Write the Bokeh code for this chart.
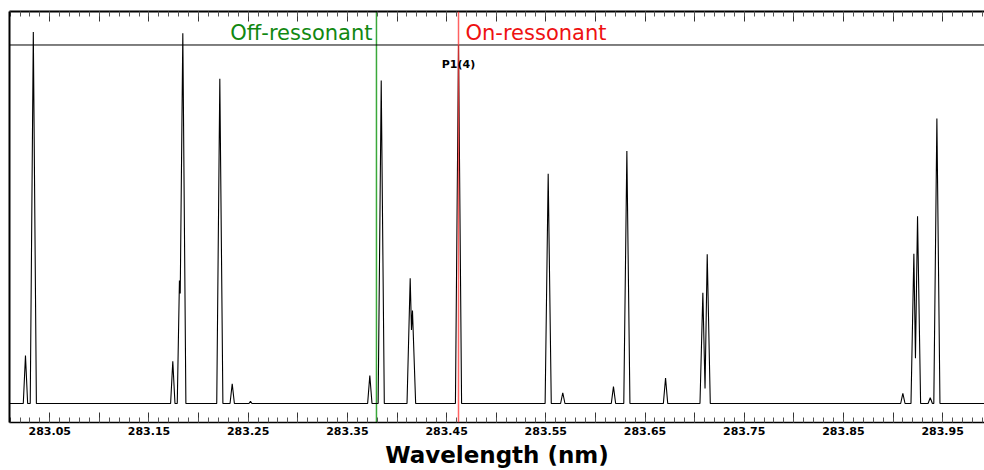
from bokeh.plotting import figure
from bokeh.models import (Range1d, LinearAxis, FixedTicker, CustomJSTickFormatter,
                          CustomLabelingPolicy, Span, Label, ColumnDataSource)
from bokeh.embed import file_html
from bokeh.resources import INLINE

# Spectrum points (wavelength in nm, normalised intensity)
wavelength = [
    283.0000,
    283.0233, 283.0255, 283.0277,
    283.0303, 283.0334, 283.0365,
    283.1718, 283.1740, 283.1762,
    283.1785, 283.1807, 283.1815, 283.1841, 283.1872,
    283.2183, 283.2214, 283.2245,
    283.2317, 283.2339, 283.2361,
    283.2508, 283.2523, 283.2538,
    283.3704, 283.3726, 283.3748,
    283.3810, 283.3841, 283.3872,
    283.4101, 283.4133, 283.4146, 283.4156, 283.4188,
    283.4589, 283.4620, 283.4651,
    283.5493, 283.5524, 283.5555,
    283.5649, 283.5671, 283.5693,
    283.6160, 283.6182, 283.6204,
    283.6286, 283.6317, 283.6348,
    283.6685, 283.6707, 283.6729,
    283.7054, 283.7083, 283.7105, 283.7127, 283.7158,
    283.9077, 283.9099, 283.9121,
    283.9181, 283.9210, 283.9226, 283.9247, 283.9278,
    283.9353, 283.9375, 283.9397,
    283.9411, 283.9442, 283.9473,
    284.0000,
]
intensity = [
    0.0,
    0.0, 0.134, 0.0,
    0.0, 1.036, 0.0,
    0.0, 0.118, 0.0,
    0.0, 0.343, 0.307, 1.033, 0.0,
    0.0, 0.906, 0.0,
    0.0, 0.055, 0.0,
    0.0, 0.006, 0.0,
    0.0, 0.078, 0.0,
    0.0, 0.901, 0.0,
    0.0, 0.349, 0.205, 0.259, 0.0,
    0.0, 1.000, 0.0,
    0.0, 0.641, 0.0,
    0.0, 0.030, 0.0,
    0.0, 0.047, 0.0,
    0.0, 0.704, 0.0,
    0.0, 0.071, 0.0,
    0.0, 0.309, 0.042, 0.416, 0.0,
    0.0, 0.028, 0.0,
    0.0, 0.418, 0.126, 0.522, 0.0,
    0.0, 0.016, 0.0,
    0.0, 0.795, 0.0,
    0.0,
]

off_resonant_wl = 283.3793
on_resonant_wl = 283.4620
reference_level = 1.0
region_label_y = 1.0335
peak_label = "P1(4)"
peak_label_wl = 283.4620
peak_label_y = 0.9456

major_ticks = [round(283.05 + 0.05 * i, 2) for i in range(19)]
minor_ticks = [round(283.0 + 0.01 * i, 2) for i in range(101)]

p = figure(width=984, height=470, output_backend="svg", toolbar_location=None,
           x_range=Range1d(283.0094, 283.9922), y_range=Range1d(-0.053, 1.0934),
           min_border_left=9, min_border_right=0, min_border_top=11, min_border_bottom=48,
           x_axis_location=None, y_axis_location="left")
p.outline_line_color = None
p.xgrid.visible = False
p.ygrid.visible = False
p.background_fill_color = "white"
p.border_fill_color = "white"

# left axis: line only
p.yaxis.ticker = FixedTicker(ticks=[], minor_ticks=[])
p.yaxis.major_tick_line_color = None
p.yaxis.minor_tick_line_color = None
p.yaxis.major_label_standoff = 0
p.yaxis.major_tick_out = 0
p.yaxis.major_tick_in = 0
p.yaxis.minor_tick_out = 0
p.yaxis.axis_line_width = 2
p.yaxis.axis_line_color = "black"

fmt = CustomJSTickFormatter(code="return tick.toFixed(2);")
every_other = CustomLabelingPolicy(code="""
try {
  const n = indices.size;
  for (let i = 0; i < n; i++) { if (i % 2 == 1) indices.unset(i); }
} catch (e) {}
return indices;
""")
no_labels = CustomLabelingPolicy(code="""
try {
  const n = indices.size;
  for (let i = 0; i < n; i++) { indices.unset(i); }
} catch (e) {}
return indices;
""")

xb = LinearAxis(ticker=FixedTicker(ticks=major_ticks, minor_ticks=minor_ticks),
                formatter=fmt, major_label_policy=every_other,
                major_tick_in=10, major_tick_out=0, minor_tick_in=5, minor_tick_out=0,
                major_tick_line_color="#333333", minor_tick_line_color="#555555",
                axis_line_color="black", axis_line_width=1.5,
                major_label_text_font="DejaVu Sans", major_label_text_font_style="bold",
                major_label_text_font_size="11px", major_label_text_color="black",
                major_label_standoff=4,
                axis_label="Wavelength (nm)", axis_label_text_font="DejaVu Sans",
                axis_label_text_font_style="bold", axis_label_text_font_size="23px",
                axis_label_text_color="black", axis_label_standoff=4)
p.add_layout(xb, "below")

xt = LinearAxis(ticker=FixedTicker(ticks=major_ticks, minor_ticks=minor_ticks),
                formatter=fmt, major_label_policy=no_labels,
                major_tick_in=10, major_tick_out=0, minor_tick_in=5, minor_tick_out=0,
                major_tick_line_color="#333333", minor_tick_line_color="#555555",
                axis_line_color="black", axis_line_width=2,
                major_label_text_font_size="11px", major_label_standoff=0)
p.add_layout(xt, "above")

p.add_layout(Span(location=reference_level, dimension="width", line_color="black", line_width=1))
p.add_layout(Span(location=off_resonant_wl, dimension="height", line_color="#3aa83a",
                  line_width=1.5, level="underlay"))

src = ColumnDataSource(dict(x=wavelength, y=intensity))
p.line("x", "y", source=src, line_color="black", line_width=1.1)

p.add_layout(Span(location=on_resonant_wl, dimension="height", line_color="#ff3b3b",
                  line_alpha=0.8, line_width=1.5))

p.add_layout(Label(x=off_resonant_wl, y=region_label_y, x_offset=-4, text="Off-ressonant",
                   text_align="right", text_baseline="middle", text_color="#118811",
                   text_font="DejaVu Sans", text_font_size="21px"))
p.add_layout(Label(x=on_resonant_wl, y=region_label_y, x_offset=7, text="On-ressonant",
                   text_align="left", text_baseline="middle", text_color="#ee1111",
                   text_font="DejaVu Sans", text_font_size="21px"))
p.add_layout(Label(x=peak_label_wl, y=peak_label_y, text=peak_label,
                   text_align="center", text_baseline="middle", text_color="black",
                   text_font="DejaVu Sans", text_font_style="bold", text_font_size="11px"))

open("out.html", "w").write(file_html(p, INLINE))
